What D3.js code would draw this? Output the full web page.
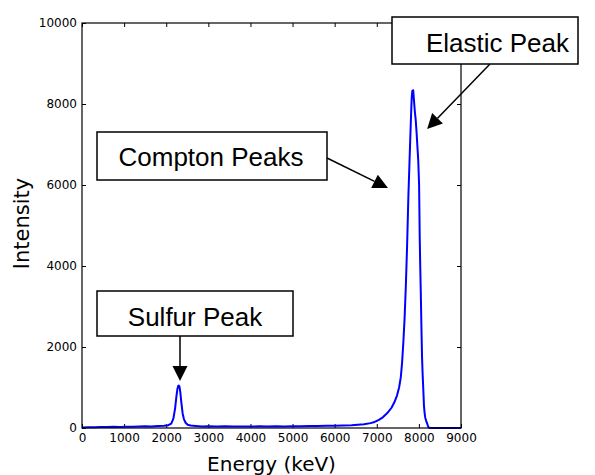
<!DOCTYPE html>
<html>
<head>
<meta charset="utf-8">
<script src="https://cdn.jsdelivr.net/npm/d3@7"></script>
<style>
  html, body { margin: 0; padding: 0; background: #fff; }
  svg { display: block; }
</style>
</head>
<body>
<svg id="chart" width="595" height="475"></svg>
<script>
// ---- Data ----
const energy = [
  0, 150, 300, 450, 600, 750, 900, 1050, 1200, 1350, 1500, 1650, 1800, 1950,
  2050, 2120, 2170, 2210, 2240, 2265, 2285, 2300, 2315, 2335, 2360, 2390, 2420,
  2460, 2510, 2580, 2700, 2850, 3000, 3200, 3400, 3600, 3800, 4000, 4200, 4400,
  4600, 4800, 5000, 5200, 5400, 5600, 5800, 6000, 6200, 6400, 6550, 6700, 6850,
  6950, 7050, 7150, 7250, 7350, 7420, 7480, 7530, 7570, 7600, 7630, 7660, 7690,
  7720, 7750, 7775, 7800, 7820, 7830, 7845, 7855, 7865, 7875, 7890, 7905, 7925,
  7945, 7965, 7985, 8005, 8020, 8030, 8045, 8060, 8075, 8090, 8105, 8120, 8135,
  8150, 8175, 8200, 8225, 8260, 8400, 8600, 8800, 9000
];
const intensity = [
  15, 20, 18, 25, 22, 28, 25, 30, 28, 35, 45, 40, 48, 55,
  70, 110, 230, 480, 760, 960, 1040, 1050, 1020, 880, 620, 360, 220,
  130, 80, 60, 50, 40, 45, 38, 42, 35, 40, 36, 42, 38,
  45, 40, 44, 42, 48, 50, 55, 58, 62, 70, 80, 90, 120,
  150, 200, 270, 370, 500, 640, 800, 1000, 1250, 1600, 2100, 2700, 3500,
  4500, 5700, 6500, 7300, 7900, 8150, 8330, 8280, 8340, 8200, 8000, 7800, 7600,
  7300, 6950, 6600, 6000, 4700, 4100, 3350, 2500, 1750, 1300, 950, 560, 380,
  260, 170, 100, 20, 0, 2, 0, 1, 0
];
const xTicks = [0, 1000, 2000, 3000, 4000, 5000, 6000, 7000, 8000, 9000];
const yTicks = [0, 2000, 4000, 6000, 8000, 10000];
const xDomain = [0, 9000];
const yDomain = [0, 10000];

// annotations: label, arrow tip in data units
const annLabels = ["Elastic Peak", "Compton Peaks", "Sulfur Peak"];
const annTipEnergy = [8195, 7266, 2327];
const annTipIntensity = [7383, 5926, 1160];

// ---- Layout ----
const plot = { left: 82, right: 461, top: 23, bottom: 428 };
const boxes = [
  { x0: 392, y0: 17, x1: 578, y1: 64, tx: 497.5, ty: 51.5, sx: 490, sy: 64 },
  { x0: 97, y0: 132, x1: 327, y1: 180, tx: 211, ty: 166, sx: 327, sy: 158 },
  { x0: 97, y0: 291, x1: 293, y1: 336, tx: 195, ty: 325.5, sx: 180, sy: 336 }
];

const svg = d3.select("#chart");
const x = d3.scaleLinear().domain(xDomain).range([plot.left, plot.right]);
const y = d3.scaleLinear().domain(yDomain).range([plot.bottom, plot.top]);

const tickFont = "'DejaVu Sans', sans-serif";

// axes (ticks inward on all sides)
const gx = svg.append("g").attr("transform", `translate(0,${plot.bottom})`)
  .call(d3.axisBottom(x).tickValues(xTicks).tickFormat(d3.format("d")).tickSize(-4).tickPadding(5));
const gxt = svg.append("g").attr("transform", `translate(0,${plot.top})`)
  .call(d3.axisTop(x).tickValues(xTicks).tickFormat("").tickSize(-4));
const gy = svg.append("g").attr("transform", `translate(${plot.left},0)`)
  .call(d3.axisLeft(y).tickValues(yTicks).tickFormat(d3.format("d")).tickSize(-4).tickPadding(5));
const gyr = svg.append("g").attr("transform", `translate(${plot.right},0)`)
  .call(d3.axisRight(y).tickValues(yTicks).tickFormat("").tickSize(-4));

[gx, gxt, gy, gyr].forEach(g => {
  g.select(".domain").remove();
  g.selectAll(".tick line").attr("stroke", "#000").attr("stroke-width", 1);
  g.selectAll(".tick text").attr("font-family", tickFont).attr("font-size", 12).attr("fill", "#000");
});

// data line
const line = d3.line().x((d, i) => x(energy[i])).y(d => y(d));
svg.append("path")
  .datum(intensity)
  .attr("d", line)
  .attr("fill", "none")
  .attr("stroke", "#0000ff")
  .attr("stroke-width", 2)
  .attr("stroke-linejoin", "round");

// frame
svg.append("rect")
  .attr("x", plot.left).attr("y", plot.top)
  .attr("width", plot.right - plot.left).attr("height", plot.bottom - plot.top)
  .attr("fill", "none").attr("stroke", "#000").attr("stroke-width", 1.2);

// axis labels
svg.append("text")
  .attr("x", (plot.left + plot.right) / 2).attr("y", 471)
  .attr("text-anchor", "middle")
  .attr("font-family", tickFont).attr("font-size", 20)
  .text("Energy (keV)");
svg.append("text")
  .attr("transform", `translate(29,${(plot.top + plot.bottom) / 2 - 2}) rotate(-90)`)
  .attr("text-anchor", "middle")
  .attr("font-family", tickFont).attr("font-size", 21)
  .text("Intensity");

// annotations
annLabels.forEach((lab, i) => {
  const b = boxes[i];
  const tx = x(annTipEnergy[i]), ty = y(annTipIntensity[i]);
  const dx = tx - b.sx, dy = ty - b.sy;
  const len = Math.hypot(dx, dy);
  const ux = dx / len, uy = dy / len;
  const hl = 15, hw = 7.5;
  const bx = tx - ux * hl, by = ty - uy * hl;
  svg.append("line")
    .attr("x1", b.sx).attr("y1", b.sy).attr("x2", bx).attr("y2", by)
    .attr("stroke", "#000").attr("stroke-width", 1.5);
  svg.append("polygon")
    .attr("points", [[tx, ty], [bx - uy * hw, by + ux * hw], [bx + uy * hw, by - ux * hw]].map(p => p.join(",")).join(" "))
    .attr("fill", "#000");
  svg.append("rect")
    .attr("x", b.x0).attr("y", b.y0).attr("width", b.x1 - b.x0).attr("height", b.y1 - b.y0)
    .attr("fill", "#fff").attr("stroke", "#000").attr("stroke-width", 1.5);
  svg.append("text")
    .attr("x", b.tx).attr("y", b.ty)
    .attr("text-anchor", "middle")
    .attr("font-family", "'Liberation Sans', Arial, sans-serif").attr("font-size", 26)
    .attr("fill", "#000")
    .text(lab);
});
</script>
</body>
</html>
